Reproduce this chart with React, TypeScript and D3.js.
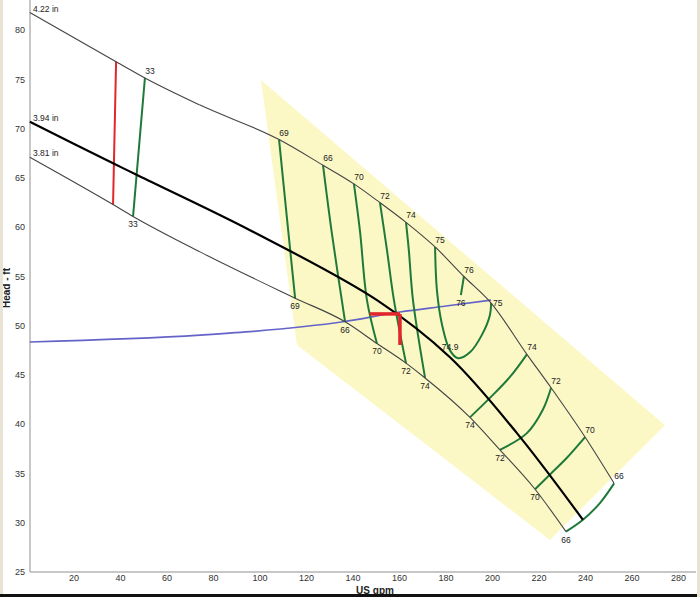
import React from "react";
import * as d3 from "d3";

type P = [number, number];

const xTicks = [20, 40, 60, 80, 100, 120, 140, 160, 180, 200, 220, 240, 260, 280];
const yTicks = [25, 30, 35, 40, 45, 50, 55, 60, 65, 70, 75, 80];

const trimLabels = ["4.22 in", "3.94 in", "3.81 in"];

const trim422: P[] = [
  [1, 81.8], [38.1, 76.8], [50.5, 75.15], [74.2, 72.4], [108.2, 68.9], [127.1, 66.3],
  [140.4, 64.4], [151.6, 62.5], [162.8, 60.5], [175.3, 58.0], [187.7, 55.0], [199.4, 52.3],
  [214.8, 47.1], [225.2, 43.7], [239.8, 38.7], [252.3, 34.0],
];
const trim394: P[] = [
  [1, 70.7], [36.8, 66.5], [47.1, 65.3], [95.7, 59.7], [150.3, 52.6],
  [181.7, 46.8], [210.5, 39.1], [238.9, 30.3],
];
const trim381: P[] = [
  [1, 67.1], [36.8, 62.3], [45.4, 61.1], [74.2, 57.5], [115.1, 52.8], [136.6, 50.4],
  [150.3, 48.2], [162.8, 46.2], [171.0, 44.7], [190.3, 40.7], [203.2, 37.4], [218.3, 33.4],
  [231.6, 29.1],
];

const systemCurve: P[] = [
  [1, 48.35], [74.2, 49.05], [95.7, 49.4], [135.7, 50.4], [160.2, 51.4], [180, 52.0], [199.4, 52.6],
];

const bepRegion: P[] = [
  [100.4, 74.95], [274.2, 39.9], [224.7, 28.25], [115.9, 48.05],
];

const redLeft: P[] = [[38.1, 76.8], [36.8, 62.3]];
const redMarkH: P[] = [[147.2, 51.2], [160.2, 51.2]];
const redMarkV: P[] = [[160.2, 51.2], [160.2, 48.05]];

const effTopLabels = ["33", "69", "66", "70", "72", "74", "76", "74", "72", "70", "66"];
const effBottomLabels = ["33", "69", "66", "70", "72", "74", "76", "74", "72", "70", "66"];
const effContours: P[][] = [
  [[50.5, 75.15], [45.4, 61.1]],
  [[108.2, 68.9], [111.6, 60.9], [115.1, 52.8]],
  [[127.1, 66.3], [130.9, 59.4], [136.6, 50.4]],
  [[140.4, 64.4], [143.0, 59.6], [146.0, 52.6], [150.3, 48.2]],
  [[151.6, 62.5], [154.6, 57.7], [157.6, 52.6], [162.8, 46.2]],
  [[162.8, 60.5], [164.0, 57.7], [165.8, 52.6], [171.0, 44.7]],
  [[187.7, 55.0], [186.4, 53.1]],
  [[214.8, 47.1], [207.5, 44.8], [199.0, 42.7], [190.3, 40.7]],
  [[225.2, 43.7], [221.7, 41.5], [214.8, 39.1], [203.2, 37.4]],
  [[239.8, 38.7], [232.0, 36.6], [225.6, 35.1], [218.3, 33.4]],
  [[252.3, 34.0], [246.2, 32.0], [238.9, 30.3], [231.6, 29.1]],
];

const uLabels = { top: "75", end: "75", min: "74.9" };
const uContour: P[] = [
  [175.3, 58.0], [176.1, 53.6], [178.3, 50.1], [181.7, 47.5], [185.2, 46.7], [190.3, 47.3],
  [195.5, 49.1], [198.9, 51.1], [199.4, 52.3],
];

const FONT = "'Liberation Sans', Arial, sans-serif";

export default function App() {
  const W = 700;
  const H = 597;
  const x = d3.scaleLinear().domain([0, 280]).range([27.5, 678.5]);
  const y = d3.scaleLinear().domain([25, 80]).range([572, 30.25]);

  const mono = d3.line<P>().x((d) => x(d[0])).y((d) => y(d[1])).curve(d3.curveMonotoneX);
  const smooth = d3.line<P>().x((d) => x(d[0])).y((d) => y(d[1])).curve(d3.curveCatmullRom.alpha(0.5));
  const straight = d3.line<P>().x((d) => x(d[0])).y((d) => y(d[1]));
  const poly = straight(bepRegion) + "Z";

  const trims = [trim422, trim394, trim381];
  const green = "#1f7a3a";
  const uMin = uContour.reduce((a, b) => (b[1] < a[1] ? b : a));
  const uEnd = uContour[uContour.length - 1];

  return (
    <svg width={W} height={H} style={{ position: "absolute", left: 0, top: 0, display: "block" }} fontFamily={FONT}>
      <rect x={0} y={0} width={W} height={H} fill="#ffffff" />
      <path d={poly} fill="#fbf8c6" stroke="none" />

      {/* axes */}
      <line x1={30} y1={0} x2={30} y2={572} stroke="#b4b4b4" strokeWidth={1.5} />
      <line x1={30} y1={572} x2={696} y2={572} stroke="#b4b4b4" strokeWidth={1.5} />
      {yTicks.map((t) => (
        <text key={"y" + t} x={25} y={y(t)} dy="0.35em" textAnchor="end" fontSize={9} fill="#333">
          {t}
        </text>
      ))}
      {xTicks.map((t) => (
        <text key={"x" + t} x={x(t)} y={581} textAnchor="middle" fontSize={9} fill="#333">
          {t}
        </text>
      ))}
      <text x={10} y={288} transform="rotate(-90 10 288)" textAnchor="middle" fontSize={10} fontWeight="bold" fill="#222">
        Head - ft
      </text>
      <text x={375} y={594} textAnchor="middle" fontSize={10} fontWeight="bold" fill="#222">
        US gpm
      </text>

      {/* system curve */}
      <path d={mono(systemCurve) || ""} fill="none" stroke="#6464c8" strokeWidth={1.6} />

      {/* efficiency contours */}
      {effContours.map((c, i) => (
        <path key={"e" + i} d={smooth(c) || ""} fill="none" stroke={green} strokeWidth={2} />
      ))}
      <path d={smooth(uContour) || ""} fill="none" stroke={green} strokeWidth={2} />

      {/* red lines */}
      <path d={straight(redLeft) || ""} fill="none" stroke="#e3262a" strokeWidth={2} />

      {/* impeller curves */}
      {trims.map((t, i) => (
        <path
          key={"t" + i}
          d={(i === 1 ? smooth(t) : mono(t)) || ""}
          fill="none"
          stroke={i === 1 ? "#000" : "#444"}
          strokeWidth={i === 1 ? 2.2 : 1.1}
        />
      ))}
      {trims.map((t, i) => (
        <text key={"tl" + i} x={33} y={y(t[0][1]) - 1} fontSize={8.5} fill="#222">
          {trimLabels[i]}
        </text>
      ))}

      <path d={straight(redMarkH) || ""} fill="none" stroke="#e3262a" strokeWidth={3.5} />
      <path d={straight(redMarkV) || ""} fill="none" stroke="#e3262a" strokeWidth={3.5} />

      {/* efficiency labels */}
      {effContours.map((c, i) => {
        const a = c[0];
        const b = c[c.length - 1];
        return (
          <g key={"el" + i} fontSize={8.5} fill="#222" textAnchor="middle">
            <text x={x(a[0]) + 5} y={y(a[1]) - 4}>{effTopLabels[i]}</text>
            <text x={x(b[0])} y={y(b[1]) + 11}>{effBottomLabels[i]}</text>
          </g>
        );
      })}
      <g fontSize={8.5} fill="#222">
        <text x={x(uContour[0][0]) + 5} y={y(uContour[0][1]) - 4} textAnchor="middle">{uLabels.top}</text>
        <text x={x(uEnd[0]) + 2} y={y(uEnd[1]) + 3} textAnchor="start">{uLabels.end}</text>
        <text x={x(uMin[0]) - 8} y={y(uMin[1]) - 8} textAnchor="middle">{uLabels.min}</text>
      </g>

      {/* frame edges */}
      <rect x={0} y={0} width={3} height={H} fill="#e9e3d3" />
      <rect x={697} y={0} width={3} height={H} fill="#e9e3d3" />
      <rect x={0} y={594} width={697} height={3} fill="#111" />
    </svg>
  );
}
